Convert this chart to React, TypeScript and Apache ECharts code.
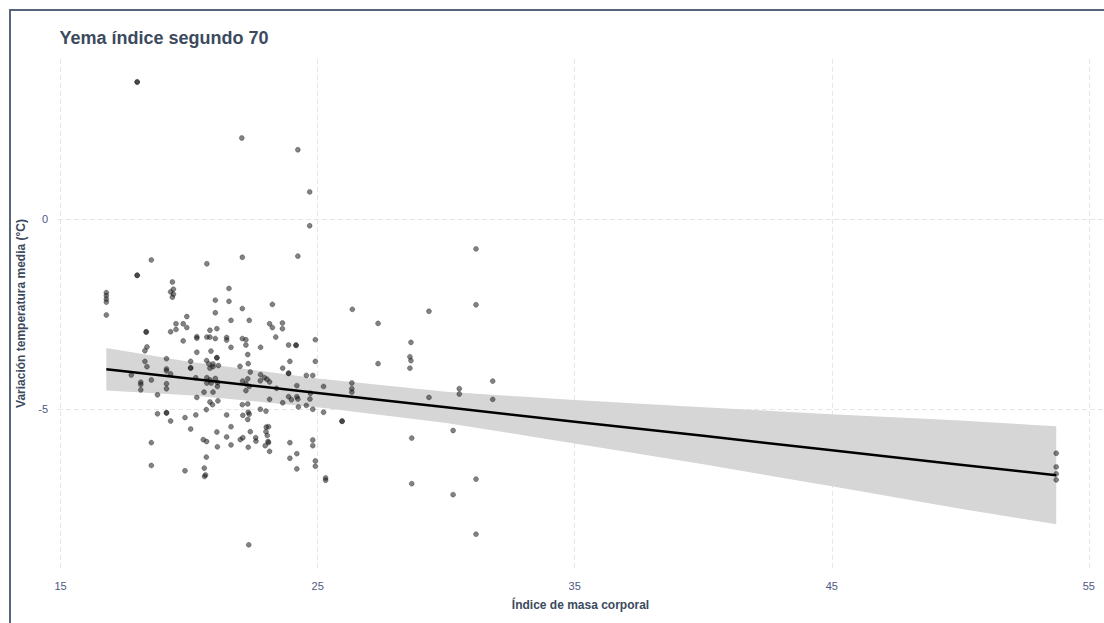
import React, { useEffect, useRef } from "react";
import * as echarts from "echarts";

const titleText = "Yema índice segundo 70";
const xAxisName = "Índice de masa corporal";
const yAxisName = "Variación temperatura media (°C)";
const xTicks = [15, 25, 35, 45, 55];
const yTicks = [-5, 0];

// Regression fit and its confidence band
const fitX = [16.78, 20, 25, 30, 35, 40, 45, 50, 53.73];
const fitY = [-3.96, -4.2, -4.58, -4.96, -5.34, -5.71, -6.09, -6.47, -6.75];
const bandUpper = [-3.4, -3.76, -4.2, -4.55, -4.77, -4.96, -5.14, -5.31, -5.46];
const bandLower = [-4.52, -4.64, -4.96, -5.37, -5.91, -6.46, -7.04, -7.63, -8.04];

// Observations: [índice de masa corporal, variación temperatura media]
const pointsLeft: [number, number][] = [
  [16.78, -1.94], [16.78, -2.02], [16.78, -2.11], [16.78, -2.19], [16.78, -2.53],
  [17.98, 3.6], [17.98, 3.61], [18.53, -1.08], [17.98, -1.48], [17.98, -1.49],
  [20.69, -1.18], [19.35, -1.66], [19.28, -1.92], [19.39, -1.85], [19.39, -1.98],
  [19.35, -2.06], [21.02, -2.14], [21.02, -2.47], [19.91, -2.57], [19.49, -2.76],
  [19.49, -2.91], [19.77, -2.76], [19.91, -2.86], [19.28, -2.97], [18.33, -2.97],
  [18.33, -2.98], [20.81, -2.93], [21.08, -2.89], [19.77, -3.21], [20.3, -3.1],
  [20.3, -3.14], [20.69, -3.11], [20.81, -3.11], [21.02, -3.15], [18.36, -3.37],
  [18.28, -3.47], [20.3, -3.51], [20.85, -3.48], [21.08, -3.65], [21.08, -3.66],
  [19.12, -3.68], [20.06, -3.75], [20.68, -3.73], [18.28, -3.75], [18.36, -3.89],
  [20.06, -3.92], [20.06, -3.93], [20.77, -3.82], [20.93, -3.82], [20.81, -3.93],
  [20.93, -3.89], [19.12, -3.95], [19.12, -4.0], [19.28, -4.08], [17.75, -4.11],
  [18.53, -4.24], [18.12, -4.3], [18.12, -4.36], [19.12, -4.34], [19.12, -4.47],
  [18.12, -4.5], [20.26, -4.18], [20.69, -4.18], [20.81, -4.24], [20.69, -4.32],
  [20.86, -4.32], [21.02, -4.2], [21.11, -4.31], [21.1, -4.41], [18.77, -4.63],
  [20.58, -4.56], [20.3, -4.7], [20.93, -4.56], [20.81, -4.82], [20.91, -4.89],
  [21.12, -4.79], [20.67, -5.02], [18.77, -5.13], [19.12, -5.1], [19.12, -5.11],
  [19.28, -5.32], [19.84, -5.23], [20.26, -5.16], [20.06, -5.53], [21.08, -5.61],
  [18.53, -5.89], [20.55, -5.81], [20.68, -5.86], [21.1, -6.0], [20.67, -6.27],
  [18.53, -6.49], [19.84, -6.63], [20.59, -6.56], [20.64, -6.74], [20.6, -6.78],
];

const pointsMid: [number, number][] = [
  [22.07, -1.01], [24.23, -0.98], [21.55, -1.83], [21.55, -2.17], [22.07, -2.36],
  [23.24, -2.25], [21.63, -2.67], [22.34, -2.67], [23.13, -2.76], [23.24, -2.86],
  [23.63, -2.74], [23.63, -2.89], [23.37, -3.11], [21.46, -3.12], [21.46, -3.19],
  [21.63, -3.38], [22.07, -3.15], [22.21, -3.18], [22.21, -3.32], [22.78, -3.38],
  [24.91, -3.18], [23.87, -3.32], [24.16, -3.32], [24.16, -3.33], [21.14, -3.86],
  [22.28, -3.57], [21.98, -3.88], [22.3, -3.81], [23.92, -3.75], [24.91, -3.75],
  [23.64, -3.93], [22.38, -4.03], [23.87, -4.06], [23.87, -4.07], [22.78, -4.1],
  [22.93, -4.18], [23.03, -4.22], [23.13, -4.29], [22.77, -4.26], [22.28, -4.21],
  [22.08, -4.27], [22.21, -4.34], [22.34, -4.41], [22.21, -4.52], [24.56, -4.12],
  [24.81, -4.12], [24.19, -4.39], [23.4, -4.46], [23.87, -4.68], [23.98, -4.76],
  [24.19, -4.68], [24.23, -4.74], [24.72, -4.59], [24.7, -4.74], [23.13, -4.75],
  [23.64, -4.84], [22.07, -4.89], [22.28, -4.87], [24.25, -4.95], [24.56, -4.91],
  [24.81, -5.01], [25.23, -4.41], [25.23, -5.09], [22.77, -5.01], [22.99, -5.06],
  [22.3, -5.09], [22.34, -5.14], [22.28, -5.28], [21.46, -5.16], [22.09, -5.17],
  [21.63, -5.47], [22.38, -5.6], [23.0, -5.48], [23.09, -5.47], [22.99, -5.6],
  [23.04, -5.7], [23.07, -5.86], [23.09, -5.89], [22.96, -5.97], [23.13, -6.12],
  [21.46, -5.74], [21.99, -5.81], [22.09, -5.76], [21.63, -5.95], [22.59, -5.76],
  [22.6, -5.85], [22.3, -6.01], [23.92, -5.89], [24.81, -5.82], [24.81, -5.97],
  [23.92, -6.3], [24.19, -6.18], [24.91, -6.37], [24.91, -6.51], [24.19, -6.58],
  [25.31, -6.82], [25.31, -6.88], [22.32, -8.58],
];

const pointsUpper: [number, number][] = [
  [22.05, 2.13], [24.23, 1.82], [24.69, 0.71], [24.69, -0.18], [26.35, -2.38],
];

const pointsRight: [number, number][] = [
  [31.16, -0.79], [31.16, -2.26], [29.33, -2.43], [27.35, -2.75], [28.63, -3.25],
  [28.59, -3.63], [28.63, -3.73], [28.59, -3.93], [27.35, -3.81], [26.33, -4.32],
  [26.33, -4.47], [26.33, -4.56], [31.81, -4.27], [30.51, -4.47], [30.51, -4.61],
  [29.33, -4.7], [31.81, -4.75], [25.95, -5.32], [25.95, -5.33], [30.27, -5.57],
  [28.66, -5.77], [28.66, -6.97], [31.16, -6.85], [30.27, -7.26], [31.16, -8.3],
  [53.73, -6.17], [53.73, -6.53], [53.73, -6.71], [53.73, -6.87],
];

const FONT = "'Liberation Sans', Arial, sans-serif";
const DARK = "#3c4a5e";
const TICK = "#4d5983";

export default function App() {
  const ref = useRef<HTMLDivElement>(null);

  useEffect(() => {
    if (!ref.current) return;
    const chart = echarts.init(ref.current, null, { renderer: "svg" });
    const points = [...pointsLeft, ...pointsMid, ...pointsUpper, ...pointsRight];
    const gridLine = { show: true, lineStyle: { color: "#e6e6e6", width: 1, type: [5, 3] as any } };

    chart.setOption({
      animation: false,
      title: {
        text: titleText,
        left: 48.5,
        top: 18,
        padding: 0,
        textStyle: { fontFamily: FONT, fontSize: 18, fontWeight: "bold", color: DARK },
      },
      grid: { left: 47, right: 1, top: 48, bottom: 55, containLabel: false, outerBoundsMode: "none" },
      xAxis: {
        type: "value",
        min: 14.9,
        max: 55.55,
        name: xAxisName,
        nameLocation: "middle",
        nameGap: 31,
        nameTextStyle: { fontFamily: FONT, fontSize: 12, fontWeight: "bold", color: DARK },
        axisLine: { show: false },
        axisTick: { show: false, customValues: xTicks },
        axisLabel: { customValues: xTicks, color: TICK, fontFamily: FONT, fontSize: 11, margin: 12 },
        splitLine: gridLine,
      },
      yAxis: {
        type: "value",
        min: -9.19,
        max: 4.21,
        name: yAxisName,
        nameLocation: "middle",
        nameGap: 26,
        nameTextStyle: { fontFamily: FONT, fontSize: 12, fontWeight: "bold", color: DARK },
        axisLine: { show: false },
        axisTick: { show: false, customValues: yTicks },
        axisLabel: { customValues: yTicks, color: TICK, fontFamily: FONT, fontSize: 11, margin: 10 },
        splitLine: gridLine,
      },
      series: [
        {
          type: "custom",
          silent: true,
          z: 1,
          data: [[fitX[0], fitY[0]]],
          renderItem: (params: any, api: any) => {
            const pts: number[][] = [];
            for (let i = 0; i < fitX.length; i++) pts.push(api.coord([fitX[i], bandUpper[i]]));
            for (let i = fitX.length - 1; i >= 0; i--) pts.push(api.coord([fitX[i], bandLower[i]]));
            return { type: "polygon", shape: { points: pts }, style: { fill: "#d6d6d6" } };
          },
        },
        {
          type: "scatter",
          z: 2,
          data: points,
          symbolSize: 5,
          itemStyle: { color: "rgba(25,25,25,0.68)", borderColor: "rgba(0,0,0,0.55)", borderWidth: 0.6 },
        },
        {
          type: "line",
          z: 3,
          data: fitX.map((x, i) => [x, fitY[i]]),
          showSymbol: false,
          symbol: "none",
          lineStyle: { color: "#000", width: 2.5 },
        },
      ],
    });
    return () => chart.dispose();
  }, []);

  return (
    <div
      style={{
        position: "fixed",
        left: 9,
        top: 9,
        width: 1095,
        height: 614,
        boxSizing: "border-box",
        borderLeft: "2px solid #56657a",
        borderTop: "2px solid #56657a",
        background: "#fff",
        overflow: "hidden",
      }}
    >
      <div ref={ref} style={{ width: 1093, height: 612 }} />
    </div>
  );
}
